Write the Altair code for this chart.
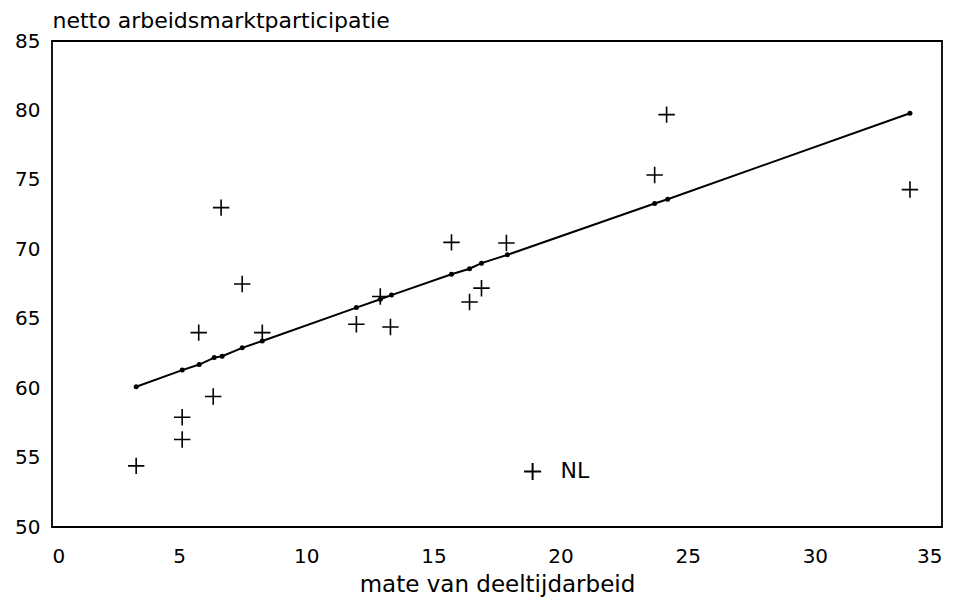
import altair as alt
import pandas as pd

# country observations (crosses)
part_x = [3.31, 5.12, 5.12, 6.34, 5.77, 6.65, 7.48, 8.27, 11.97, 12.91, 13.31,
          15.71, 16.42, 16.89, 17.87, 23.70, 24.17, 33.74]
part_y = [54.4, 57.9, 56.3, 59.4, 64.0, 73.0, 67.5, 64.0, 64.6, 66.6, 64.4,
          70.5, 66.2, 67.2, 70.45, 75.35, 79.7, 74.3]

# fitted values (dots on the regression line)
fit_x = [3.31, 5.12, 5.79, 6.38, 6.69, 7.48, 8.27, 11.97, 12.91, 13.35,
         15.71, 16.42, 16.89, 17.91, 23.70, 24.21, 33.74]
fit_y = [60.1, 61.3, 61.7, 62.2, 62.3, 62.9, 63.4, 65.8, 66.4, 66.7,
         68.2, 68.6, 69.0, 69.6, 73.3, 73.6, 79.8]

# Netherlands
nl_x = [18.9]
nl_y = [54.0]
nl_label = ["NL"]

FONT = "DejaVu Sans"

obs = pd.DataFrame({"x": part_x, "y": part_y})
fit = pd.DataFrame({"x": fit_x, "y": fit_y})
nl = pd.DataFrame({"x": nl_x, "y": nl_y, "label": nl_label})

xscale = alt.Scale(domain=[0, 35], nice=False, zero=False)
yscale = alt.Scale(domain=[50, 85], nice=False, zero=False)

xax = alt.Axis(values=[0, 5, 10, 15, 20, 25, 30, 35], title="mate van deeltijdarbeid",
               grid=False, ticks=False, domain=False, labelFont=FONT, labelFontSize=20,
               labelPadding=19, titleFont=FONT, titleFontSize=23, titleFontWeight="normal",
               titlePadding=7, labelColor="black", titleColor="black")
yax = alt.Axis(values=[50, 55, 60, 65, 70, 75, 80, 85], title="netto arbeidsmarktparticipatie",
               grid=False, ticks=False, domain=False, labelFont=FONT, labelFontSize=20,
               labelPadding=12, titleFont=FONT, titleFontSize=22, titleFontWeight="normal",
               titleAngle=0, titleAlign="left", titleBaseline="alphabetic",
               titleX=0, titleY=-14, labelColor="black", titleColor="black")

cross = "M-1,0L1,0M0,-1L0,1"

pts = alt.Chart(obs).mark_point(shape=cross, size=270, filled=False, color="black",
                                strokeWidth=1.6, opacity=1).encode(
    x=alt.X("x:Q", scale=xscale, axis=xax),
    y=alt.Y("y:Q", scale=yscale, axis=yax),
)

line = alt.Chart(fit).mark_line(color="black", strokeWidth=2).encode(
    x=alt.X("x:Q", scale=xscale), y=alt.Y("y:Q", scale=yscale))

dots = alt.Chart(fit).mark_circle(color="black", size=25, opacity=1).encode(
    x=alt.X("x:Q", scale=xscale), y=alt.Y("y:Q", scale=yscale))

nlpt = alt.Chart(nl).mark_point(shape=cross, size=290, filled=False, color="black",
                                strokeWidth=2, opacity=1).encode(
    x=alt.X("x:Q", scale=xscale), y=alt.Y("y:Q", scale=yscale))

nltext = alt.Chart(nl).mark_text(font=FONT, fontSize=22, align="left", baseline="middle",
                                 dx=28, color="black").encode(
    x=alt.X("x:Q", scale=xscale), y=alt.Y("y:Q", scale=yscale), text="label:N")

chart = alt.layer(line, dots, pts, nlpt, nltext).properties(
    width=890, height=486,
    autosize=alt.AutoSizeParams(type="none"),
    padding={"left": 44, "top": 33, "right": 12, "bottom": 70},
    background="white",
).configure_view(stroke="black", strokeWidth=1.8)

chart.save("out.html", embed_options={"renderer": "svg", "actions": False})
